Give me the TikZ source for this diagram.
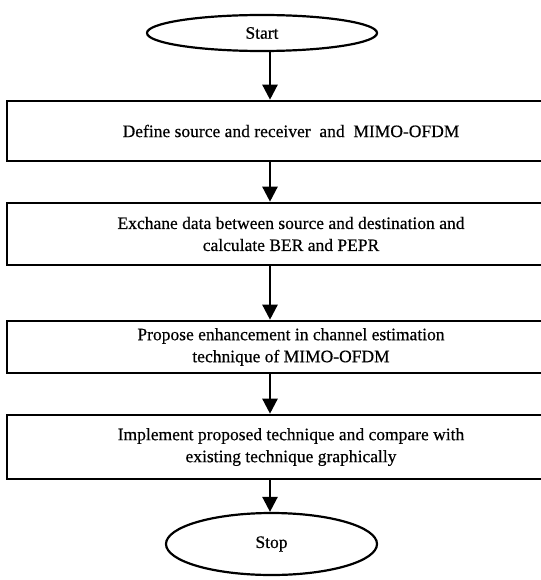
\documentclass[tikz,border=0pt]{standalone}
\usepackage{fontspec}
\setmainfont{Liberation Serif}[BoldFont=Liberation Serif, BoldFeatures={FakeBold=0.5}]
\usetikzlibrary{shapes.geometric,arrows.meta}
\begin{document}
\begin{tikzpicture}[x=1pt,y=-1pt,
  txt/.style={font=\fontsize{17.5}{22}\selectfont\bfseries, align=center},
  stepbox/.style={draw, line width=2.6pt, rectangle, minimum width=568pt, inner sep=0pt, txt},
  term/.style={draw, line width=2.2pt, ellipse, inner sep=0pt, txt},
  arr/.style={line width=2.4pt, -{Triangle[length=15pt,width=15pt]}}]
\useasboundingbox (0,0) rectangle (540,580);
\coordinate (ax) at (270,0);
\node[term, minimum width=230pt, minimum height=36pt] (start) at (262,33) {Start};
\node[stepbox, minimum height=60pt] (b1) at (291,131) {Define source and receiver \ and \ MIMO-OFDM};
\node[stepbox, minimum height=62pt] (b2) at (291,234) {Exchane data between source and destination and\\calculate BER and PEPR};
\node[stepbox, minimum height=52pt] (b3) at (291,347) {Propose enhancement in channel estimation\\technique of MIMO-OFDM};
\node[stepbox, minimum height=64pt] (b4) at (291,447) {Implement proposed technique and compare with\\existing technique graphically};
\node[term, minimum width=211pt, minimum height=62pt] (stop) at (271.5,544) {Stop};
\draw[arr] (start.south -| ax) -- (b1.north -| ax);
\draw[arr] (b1.south -| ax) -- (b2.north -| ax);
\draw[arr] (b2.south -| ax) -- (b3.north -| ax);
\draw[arr] (b3.south -| ax) -- (b4.north -| ax);
\draw[arr] (b4.south -| ax) -- (stop.north -| ax);
\end{tikzpicture}
\end{document}
